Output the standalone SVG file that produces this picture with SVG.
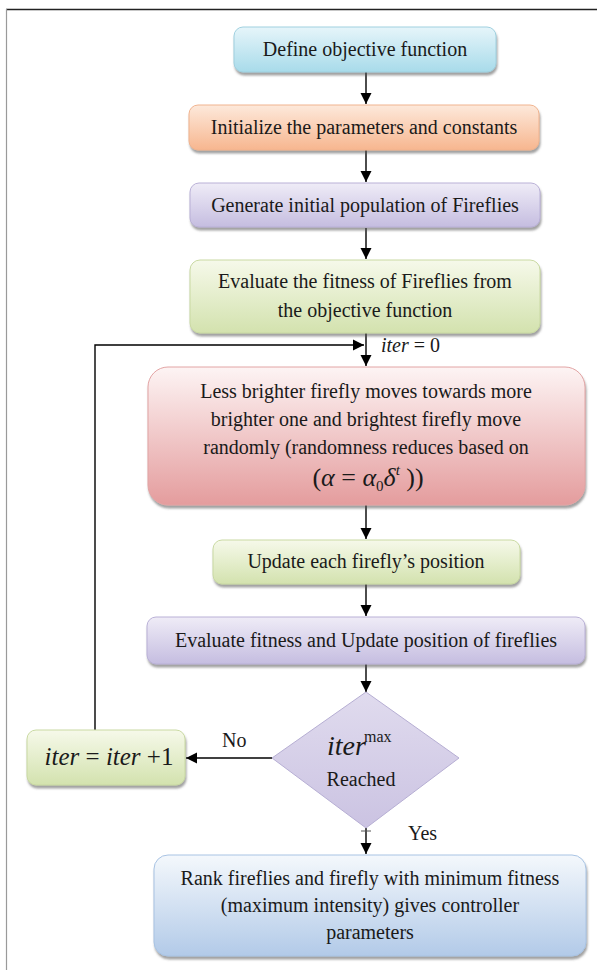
<svg xmlns="http://www.w3.org/2000/svg" width="597" height="970" viewBox="0 0 597 970">
<defs>
<linearGradient id="gBlue" x1="0" y1="0" x2="0" y2="1"><stop offset="0" stop-color="#e6f5fa"/><stop offset="1" stop-color="#a8dbea"/></linearGradient>
<linearGradient id="gOrange" x1="0" y1="0" x2="0" y2="1"><stop offset="0" stop-color="#fde9db"/><stop offset="1" stop-color="#f7b68f"/></linearGradient>
<linearGradient id="gLav" x1="0" y1="0" x2="0" y2="1"><stop offset="0" stop-color="#efecf7"/><stop offset="1" stop-color="#c5bde0"/></linearGradient>
<linearGradient id="gGreen" x1="0" y1="0" x2="0" y2="1"><stop offset="0" stop-color="#f6f9ea"/><stop offset="1" stop-color="#d3e2ae"/></linearGradient>
<linearGradient id="gRed" x1="0" y1="0" x2="0" y2="1"><stop offset="0" stop-color="#fdf4f4"/><stop offset="1" stop-color="#e49c9d"/></linearGradient>
<linearGradient id="gBlue2" x1="0" y1="0" x2="0" y2="1"><stop offset="0" stop-color="#f4f8fc"/><stop offset="1" stop-color="#b2cae8"/></linearGradient>
<linearGradient id="gDia" x1="0" y1="0" x2="0" y2="1"><stop offset="0" stop-color="#e0dbee"/><stop offset="1" stop-color="#cbc3e2"/></linearGradient>
<filter id="sh" x="-5%" y="-10%" width="110%" height="130%"><feDropShadow dx="1" dy="3" stdDeviation="1" flood-color="#555" flood-opacity="0.55"/></filter>
<marker id="ah" markerWidth="12" markerHeight="12" refX="11" refY="6" orient="auto" markerUnits="userSpaceOnUse"><path d="M0,0.5 L11,6 L0,11.5 Z" fill="#000"/></marker>
</defs>
<style>
text{font-family:"Liberation Serif","Times New Roman",serif;fill:#1a1a1a;}
.t{font-size:20px;text-anchor:middle;}
.f{font-size:26px;text-anchor:middle;}
.it{font-style:italic;}
.box{stroke-width:1;filter:url(#sh);}
.c{stroke:#000;stroke-width:1.4;fill:none;}
</style>
<g id="frame">
<line x1="6" y1="9.5" x2="597" y2="9.5" stroke="#222" stroke-width="1.5"/>
<line x1="6.5" y1="9" x2="6.5" y2="970" stroke="#9a9a9a" stroke-width="1.2"/>
</g>
<g id="connectors">
<line class="c" x1="366" y1="72" x2="366" y2="104" marker-end="url(#ah)"/>
<line class="c" x1="366" y1="150" x2="366" y2="182" marker-end="url(#ah)"/>
<line class="c" x1="366" y1="228" x2="366" y2="259" marker-end="url(#ah)"/>
<line class="c" x1="366" y1="333" x2="366" y2="366" marker-end="url(#ah)"/>
<line class="c" x1="366" y1="505" x2="366" y2="539" marker-end="url(#ah)"/>
<line class="c" x1="366" y1="584" x2="366" y2="616" marker-end="url(#ah)"/>
<line class="c" x1="366" y1="664" x2="366" y2="692" marker-end="url(#ah)"/>
<line class="c" x1="272" y1="758" x2="186" y2="758" marker-end="url(#ah)"/>
<polyline class="c" points="95,730 95,345 364,345" marker-end="url(#ah)"/>
<line class="c" x1="366" y1="828" x2="366" y2="854" marker-end="url(#ah)"/>
<line x1="361" y1="831" x2="371" y2="831" stroke="#555" stroke-width="1"/>
<text x="381" y="352" font-size="20"><tspan class="it">iter</tspan> = 0</text>
<text x="222" y="747" font-size="20">No</text>
<text x="408" y="840" font-size="20">Yes</text>
</g>
<g id="n1">
<rect class="box" x="234" y="27" width="262" height="45" rx="9" fill="url(#gBlue)" stroke="#9fd0df"/>
<text class="t" x="365" y="56">Define objective function</text>
</g>
<g id="n2">
<rect class="box" x="189" y="105" width="350" height="45" rx="9" fill="url(#gOrange)" stroke="#f0b38e"/>
<text class="t" x="364" y="134">Initialize the parameters and constants</text>
</g>
<g id="n3">
<rect class="box" x="190" y="183" width="350" height="44" rx="9" fill="url(#gLav)" stroke="#b9b0d6"/>
<text class="t" x="365" y="212">Generate initial population of Fireflies</text>
</g>
<g id="n4">
<rect class="box" x="190" y="260" width="350" height="73" rx="10" fill="url(#gGreen)" stroke="#c9d9a2"/>
<text class="t" x="365" y="288">Evaluate the fitness of Fireflies from</text>
<text class="t" x="365" y="317">the objective function</text>
</g>
<g id="n5">
<rect class="box" x="148" y="367" width="437" height="138" rx="20" fill="url(#gRed)" stroke="#e2a4a4"/>
<text class="t" x="366" y="398">Less brighter firefly moves towards more</text>
<text class="t" x="366" y="426">brighter one and brightest firefly move</text>
<text class="t" x="366" y="454">randomly (randomness reduces based on</text>
<text class="f" x="368" y="486">(<tspan class="it">α</tspan> = <tspan class="it">α</tspan><tspan font-size="15" dy="5">0</tspan><tspan class="it" dy="-5">δ</tspan><tspan class="it" font-size="15" dy="-11">t</tspan><tspan dy="11"> ))</tspan></text>
</g>
<g id="n6">
<rect class="box" x="213" y="540" width="307" height="44" rx="9" fill="url(#gGreen)" stroke="#c9d9a2"/>
<text class="t" x="366" y="568">Update each firefly’s position</text>
</g>
<g id="n7">
<rect class="box" x="147" y="617" width="438" height="47" rx="9" fill="url(#gLav)" stroke="#b9b0d6"/>
<text class="t" x="366" y="647">Evaluate fitness and Update position of fireflies</text>
</g>
<g id="n8">
<polygon points="366,692 459,758 366,828 272,758" fill="url(#gDia)" stroke="#b6aed3" stroke-width="1"/>
<text x="327" y="755" font-size="28" class="it">iter</text>
<text x="364" y="742" font-size="16">max</text>
<text class="t" x="361" y="786">Reached</text>
</g>
<g id="n9">
<rect class="box" x="27" y="730" width="158" height="55" rx="9" fill="url(#gGreen)" stroke="#c9d9a2"/>
<text x="109" y="765" font-size="25" text-anchor="middle"><tspan class="it">iter</tspan> = <tspan class="it">iter</tspan> +1</text>
</g>
<g id="n10">
<rect class="box" x="154" y="855" width="432" height="101" rx="14" fill="url(#gBlue2)" stroke="#a8c3e3"/>
<text class="t" x="370" y="885">Rank fireflies and firefly with minimum fitness</text>
<text class="t" x="370" y="912">(maximum intensity) gives controller</text>
<text class="t" x="370" y="939">parameters</text>
</g>
</svg>
